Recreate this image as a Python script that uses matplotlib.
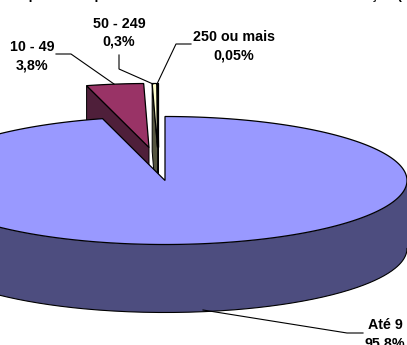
import numpy as np
import matplotlib
matplotlib.use('Agg')
import matplotlib.pyplot as plt

plt.rcParams['font.family'] = ['Liberation Sans', 'DejaVu Sans']

# share of each class, clockwise from the top of the pie
classes = ['Até 9', '10 - 49', '50 - 249', '250 ou mais']
shares = [95.8, 3.8, 0.3, 0.05]
share_labels = ['95,8%', '3,8%', '0,3%', '0,05%']
top_colors = ['#9999ff', '#993366', '#ffffcc', '#ffffcc']
side_colors = ['#4d4d7f', '#4f1f3a', '#55553f', '#d8d8b0']

title_text = 'Empresas de porte definido nos Estados e totais de situação (%)'

W, H = 407, 345
CX, CY = 165, 180.5
RX, RY = 242, 64
DEPTH = 68
# apex shift of the pulled out slices, in pixels
shifts = [(0, 0), (-16, -33), (-7.5, -33), (-6.5, -33)]
# where each label sits and how its leader runs
label_pos = [(385, 325), (32, 47), (119, 24), (234, 37)]
leaders = [
    [(203, 310), (347, 333), (363, 333)],
    [(56, 54), (71, 54), (114, 84)],
    [(119, 55), (119, 69), (153, 84)],
    [(191, 44), (176, 44), (157, 84)],
]


def rim(a0, a1, cx, cy):
    t = np.radians(np.linspace(a0, a1, 300))
    return cx + RX * np.sin(t), cy - RY * np.cos(t)


fig = plt.figure(figsize=(W / 100, H / 100), dpi=100)
ax = fig.add_axes([0, 0, 1, 1])
ax.set_xlim(0, W)
ax.set_ylim(H, 0)
ax.axis('off')

# slice angles from the shares
total = sum(shares)
angles = np.cumsum([0] + [s / total * 360 for s in shares])

# small slices go first, the big one covers their lower part
for i in [1, 2, 3, 0]:
    a0, a1 = angles[i], angles[i + 1]
    cx, cy = CX + shifts[i][0], CY + shifts[i][1]
    x, y = rim(a0, a1, cx, cy)

    # radial face on the left cut
    if i > 0:
        ax.fill([cx, x[0], x[0], cx], [cy, y[0], y[0] + DEPTH, cy + DEPTH],
                fc=side_colors[i], ec='black', lw=0.7, zorder=2)
    else:
        # outer wall, only the front half can be seen
        xs, ys = rim(90, 270, cx, cy)
        ax.fill(np.r_[xs, xs[::-1]], np.r_[ys, ys[::-1] + DEPTH],
                fc=side_colors[0], ec='none', zorder=3)
        ax.plot(xs, ys + DEPTH, color='black', lw=0.8, zorder=3)

    ax.fill(np.r_[cx, x], np.r_[cy, y], fc=top_colors[i], ec='black',
            lw=0.9, zorder=4 if i == 0 else 2.5, joinstyle='miter')

for pts in leaders:
    px, py = zip(*pts)
    ax.plot(px, py, color='black', lw=0.8, zorder=5)

for name, val, (lx, ly) in zip(classes, share_labels, label_pos):
    ax.text(lx, ly, name, ha='center', va='center', fontsize=10.3, fontweight='bold')
    ax.text(lx, ly + 18, val, ha='center', va='center', fontsize=10.3, fontweight='bold')

# title is cut by the top of the picture
ax.text(8, -1, title_text, ha='left', va='baseline', fontsize=9.6, fontweight='bold')

fig.savefig('out.png', dpi=100)
